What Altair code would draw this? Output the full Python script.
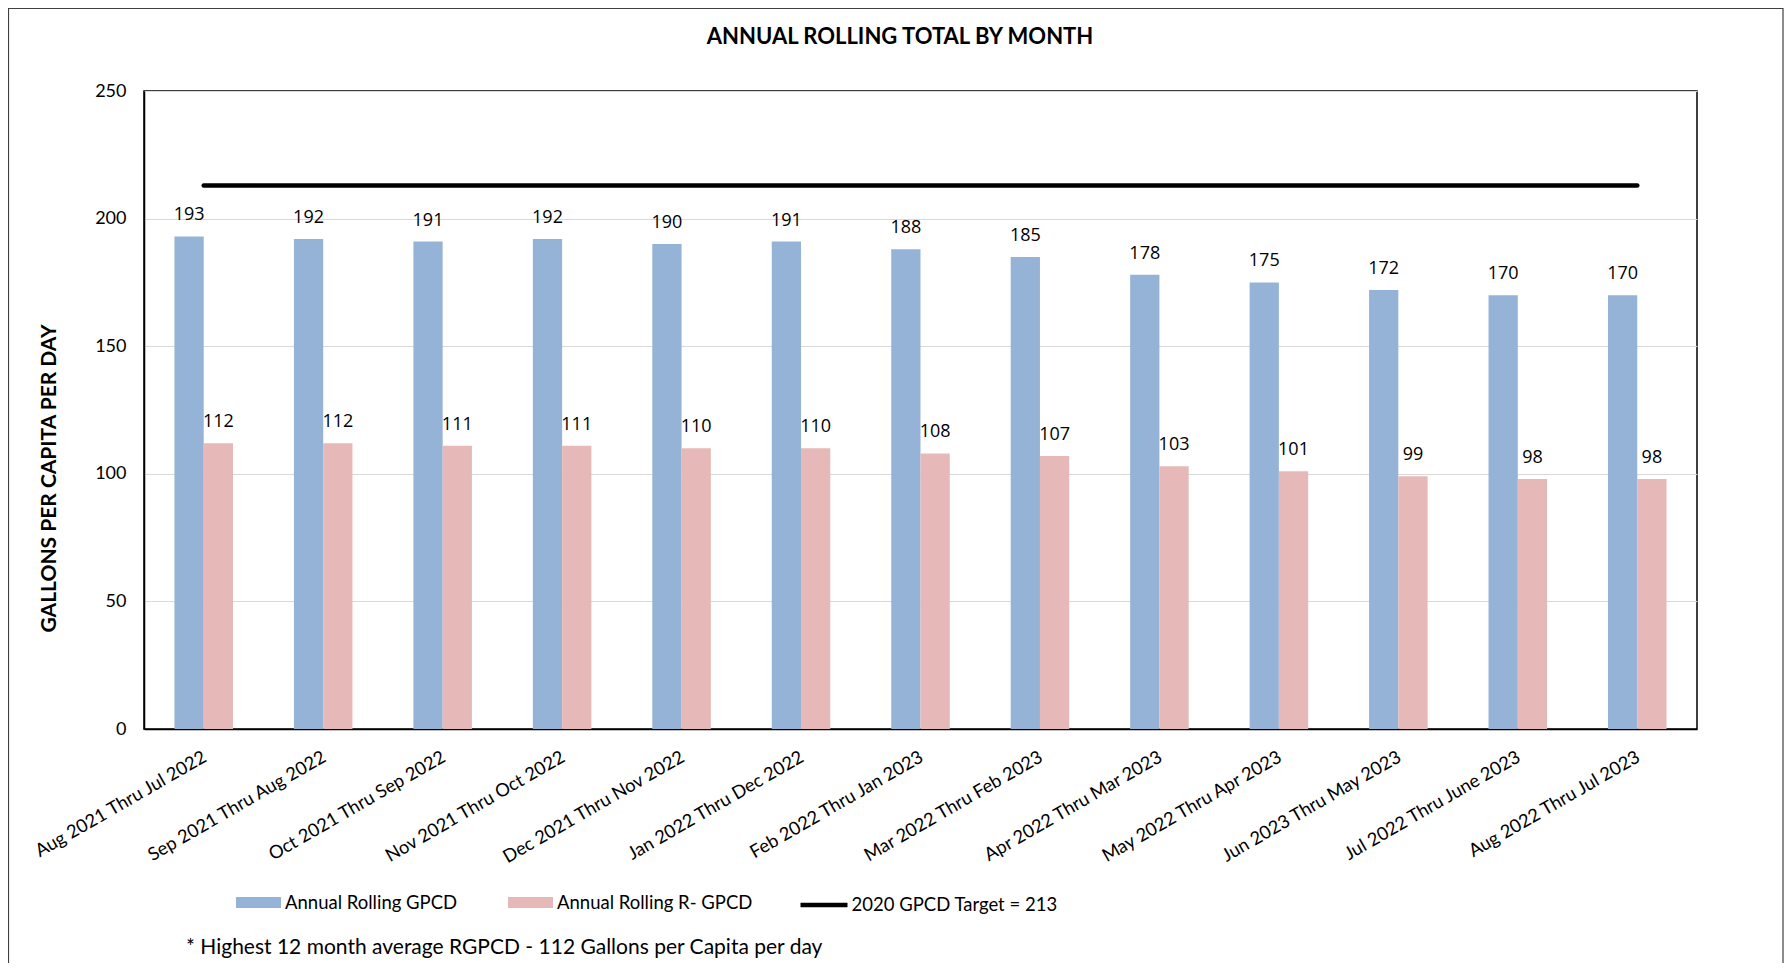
import altair as alt
import pandas as pd

# ---------------- data ----------------
categories = [
    "Aug 2021 Thru Jul 2022", "Sep 2021 Thru Aug 2022", "Oct 2021 Thru Sep 2022",
    "Nov 2021 Thru Oct 2022", "Dec 2021 Thru Nov 2022", "Jan 2022 Thru Dec 2022",
    "Feb 2022 Thru Jan 2023", "Mar 2022 Thru Feb 2023", "Apr 2022 Thru Mar 2023",
    "May 2022 Thru Apr 2023", "Jun 2023 Thru May 2023", "Jul 2022 Thru June 2023",
    "Aug 2022 Thru Jul 2023",
]
gpcd = [193, 192, 191, 192, 190, 191, 188, 185, 178, 175, 172, 170, 170]
rgpcd = [112, 112, 111, 111, 110, 110, 108, 107, 103, 101, 99, 98, 98]
series_names = ["Annual Rolling GPCD", "Annual Rolling R- GPCD"]
series_colors = ["#95B3D7", "#E6B9B8"]
target_value = 213
target_label = "2020 GPCD Target = 213"
y_ticks = [0, 50, 100, 150, 200, 250]
title_text = "ANNUAL  ROLLING TOTAL BY MONTH"
y_title = "GALLONS PER CAPITA PER DAY"
footnote_text = "* Highest 12 month average RGPCD - 112 Gallons per Capita per day"

# ---------------- tables ----------------
bars_df = pd.DataFrame(
    [{"period": c, "series": series_names[0], "value": v} for c, v in zip(categories, gpcd)]
    + [{"period": c, "series": series_names[1], "value": v} for c, v in zip(categories, rgpcd)]
)
target_df = pd.DataFrame({
    "period": [categories[0], categories[-1]],
    "value": [target_value, target_value],
    "label": [target_label, target_label],
})
title_df = pd.DataFrame({"t": [title_text]})
foot_df = pd.DataFrame({"t": [footnote_text]})
one_df = pd.DataFrame({"k": [0]})

W, H = 1553, 638
PAD = {"left": 136, "top": 83, "right": 87, "bottom": 234}
CAL = "Lato"

x_enc = alt.X(
    "period:N", sort=categories, title=None,
    scale=alt.Scale(paddingInner=0.51, paddingOuter=0.255),
    axis=alt.Axis(labelAngle=-30, labelAlign="right", labelBaseline="top",
                  labelPadding=19, labelOffset=-3, labelFont=CAL, labelFontSize=18.3,
                  labelColor="black", labelLimit=400, labelOverlap=False,
                  ticks=False, domainColor="black", domainWidth=1.5, grid=False),
)
y_enc = alt.Y(
    "value:Q", scale=alt.Scale(domain=[0, 250], nice=False),
    axis=alt.Axis(values=y_ticks, title=y_title, titleFont=CAL, titleFontSize=21,
                  titleFontWeight="bold", titleColor="black", titleX=-95, titleY=387,
                  titleAlign="center", titleBaseline="middle",
                  labelFont=CAL, labelFontSize=18, labelColor="black", labelPadding=18,
                  ticks=False, grid=True, gridColor="#D9D9D9", gridWidth=1,
                  domainColor="black", domainWidth=1.5),
)
xoff = alt.XOffset("series:N", sort=series_names,
                   scale=alt.Scale(paddingInner=0, paddingOuter=0))

border = alt.Chart(one_df).mark_rect(filled=False, stroke="#404040", strokeWidth=1.2).encode(
    x=alt.value(-135.5), x2=alt.value(1639), y=alt.value(-82.5), y2=alt.value(950)
)

bars = alt.Chart(bars_df).mark_bar().encode(
    x=x_enc, y=y_enc, xOffset=xoff,
    color=alt.Color(
        "series:N", sort=series_names,
        scale=alt.Scale(domain=series_names, range=series_colors),
        legend=alt.Legend(title=None, orient="none", legendX=103, legendY=800,
                          direction="horizontal", symbolType="M-2,-0.5H2V0.5H-2Z",
                          symbolSize=506, symbolStrokeWidth=0, symbolOpacity=1,
                          labelFont=CAL, labelFontSize=18.5, labelColor="black",
                          labelOffset=15, columnPadding=50, padding=0, labelLimit=400),
    ),
)

labels = alt.Chart(bars_df).mark_text(
    font="Open Sans", fontSize=18, color="black", baseline="middle", align="center", dy=-21
).encode(x=alt.X("period:N", sort=categories), y="value:Q", xOffset=xoff, text="value:Q")

target = alt.Chart(target_df).mark_line(strokeWidth=4.5, strokeCap="round").encode(
    x=alt.X("period:N", sort=categories),
    y="value:Q",
    stroke=alt.Stroke(
        "label:N", scale=alt.Scale(domain=[target_label], range=["black"]),
        legend=alt.Legend(title=None, orient="none", legendX=666, legendY=800,
                          symbolType="M-2,0H2", symbolSize=552, symbolStrokeWidth=4.5,
                          labelFont=CAL, labelFontSize=18.5, labelColor="black",
                          labelOffset=13.5, padding=0, labelLimit=400),
    ),
)

title = alt.Chart(title_df).mark_text(
    font=CAL, fontSize=22, fontWeight="bold", color="black", align="center", baseline="middle"
).encode(x=alt.value(756), y=alt.value(-54), text="t:N")

foot = alt.Chart(foot_df).mark_text(
    font=CAL, fontSize=21, color="black", align="left", baseline="middle"
).encode(x=alt.value(42), y=alt.value(857), text="t:N")

chart = alt.layer(border, bars, labels, target, title, foot).properties(
    width=W, height=H,
    autosize=alt.AutoSizeParams(type="none"),
    padding=PAD,
).configure_view(stroke="black", strokeWidth=1.5)

chart.save("out.html", embed_options={"renderer": "svg", "actions": False})
